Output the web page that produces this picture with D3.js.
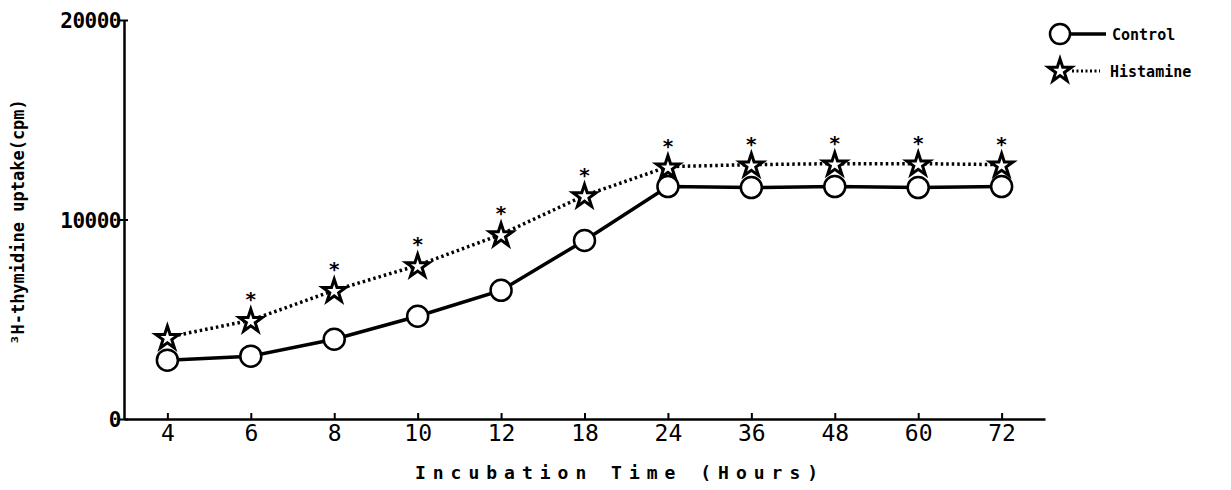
<!DOCTYPE html>
<html>
<head>
<meta charset="utf-8">
<script src="https://cdn.jsdelivr.net/npm/d3@7"></script>
<style>
body { margin: 0; background: #fff; }
svg text { fill: #000; }
</style>
</head>
<body>
<svg width="1231" height="490"></svg>
<script>
// incubation times (hours), categorical axis
var hours = ["4", "6", "8", "10", "12", "18", "24", "36", "48", "60", "72"];
// 3H-thymidine uptake, cpm
var control = [2950, 3150, 4000, 5150, 6450, 8950, 11650, 11600, 11650, 11600, 11650];
var histamine = [4100, 4950, 6450, 7700, 9250, 11200, 12650, 12750, 12800, 12800, 12750];
// significance marks
var signif = [false, true, true, true, true, true, true, true, true, true, true];
var yTicks = [0, 10000, 20000];
var yTickLabels = ["0", "10000", "20000"];

var svg = d3.select("svg");
var mono = "'DejaVu Sans Mono', monospace";

var x = d3.scalePoint().domain(hours).range([124, 1045]).padding(0.52);
var y = d3.scaleLinear().domain([0, 20000]).range([419, 20]);

// axes
var yAxis = svg.append("g").attr("transform", "translate(124,0)")
	.call(d3.axisLeft(y).tickValues(yTicks).tickSize(0)
		.tickFormat(function(d, i) { return yTickLabels[i]; }));
yAxis.select(".domain").attr("stroke", "#000").attr("stroke-width", 2.5);
yAxis.selectAll(".tick line").remove();
yAxis.selectAll(".tick").append("line")
	.attr("x1", -4).attr("x2", 4).attr("stroke", "#000").attr("stroke-width", 2);
yAxis.selectAll(".tick text")
	.attr("x", -3).attr("dy", "0.36em")
	.style("font-family", mono).style("font-weight", "bold")
	.style("font-size", "21px").style("letter-spacing", "-0.5px");

var xAxis = svg.append("g").attr("transform", "translate(0,419)")
	.call(d3.axisBottom(x).tickSize(-6).tickSizeOuter(0));
xAxis.select(".domain").attr("stroke", "#000").attr("stroke-width", 2.5);
xAxis.selectAll(".tick line").attr("stroke", "#000").attr("stroke-width", 2);
xAxis.selectAll(".tick text")
	.attr("y", 6)
	.style("font-family", mono).style("font-size", "23px");

svg.append("text")
	.attr("x", 620).attr("y", 479)
	.attr("text-anchor", "middle")
	.style("font-family", mono).style("font-weight", "bold")
	.style("font-size", "18px").style("letter-spacing", "7px")
	.text("Incubation Time (Hours)");

svg.append("text")
	.attr("transform", "translate(24,222) rotate(-90)")
	.attr("text-anchor", "middle")
	.style("font-family", mono).style("font-weight", "bold")
	.style("font-size", "17px")
	.text("³H-thymidine uptake(cpm)");

// lines
var line = d3.line()
	.x(function(d, i) { return x(hours[i]); })
	.y(function(d) { return y(d); });

svg.append("path").datum(histamine)
	.attr("d", line).attr("fill", "none")
	.attr("stroke", "#000").attr("stroke-width", 3.5)
	.attr("stroke-dasharray", "2.5,3");

svg.append("path").datum(control)
	.attr("d", line).attr("fill", "none")
	.attr("stroke", "#000").attr("stroke-width", 3.5);

// markers
var star = d3.symbol().type(d3.symbolStar).size(165);

function drawStar(g) {
	g.append("path").attr("d", star).attr("fill", "#fff")
		.attr("stroke", "#000").attr("stroke-width", 3)
		.attr("stroke-linejoin", "miter")
		.attr("transform", "translate(0,1)");
}

svg.append("g").selectAll("circle")
	.data(control).enter().append("circle")
	.attr("cx", function(d, i) { return x(hours[i]); })
	.attr("cy", function(d) { return y(d); })
	.attr("r", 10.5)
	.attr("fill", "#fff").attr("stroke", "#000").attr("stroke-width", 2.5);

svg.append("g").selectAll("g")
	.data(histamine).enter().append("g")
	.attr("transform", function(d, i) { return "translate(" + x(hours[i]) + "," + y(d) + ")"; })
	.each(function() { drawStar(d3.select(this)); });

var marks = [];
for (var i = 0; i < hours.length; i++) {
	if (signif[i]) marks.push({ hour: hours[i], value: histamine[i] });
}

svg.append("g").selectAll("text")
	.data(marks).enter().append("text")
	.attr("x", function(d) { return x(d.hour); })
	.attr("y", function(d) { return y(d.value) - 14; })
	.attr("text-anchor", "middle")
	.style("font-family", mono).style("font-weight", "bold")
	.style("font-size", "20px")
	.text("*");

// legend
var lg = svg.append("g");
lg.append("line").attr("x1", 1070).attr("x2", 1106).attr("y1", 34).attr("y2", 34)
	.attr("stroke", "#000").attr("stroke-width", 3.5);
lg.append("circle").attr("cx", 1060).attr("cy", 34).attr("r", 10)
	.attr("fill", "#fff").attr("stroke", "#000").attr("stroke-width", 2.5);
lg.append("text").attr("x", 1112).attr("y", 40)
	.style("font-family", mono).style("font-weight", "bold").style("font-size", "15px")
	.text("Control");

lg.append("line").attr("x1", 1072).attr("x2", 1100).attr("y1", 71).attr("y2", 71)
	.attr("stroke", "#000").attr("stroke-width", 3).attr("stroke-dasharray", "2,2.5");
var ls = lg.append("g").attr("transform", "translate(1060,70)");
drawStar(ls);
lg.append("text").attr("x", 1110).attr("y", 77)
	.style("font-family", mono).style("font-weight", "bold").style("font-size", "15px")
	.text("Histamine");
</script>
</body>
</html>
